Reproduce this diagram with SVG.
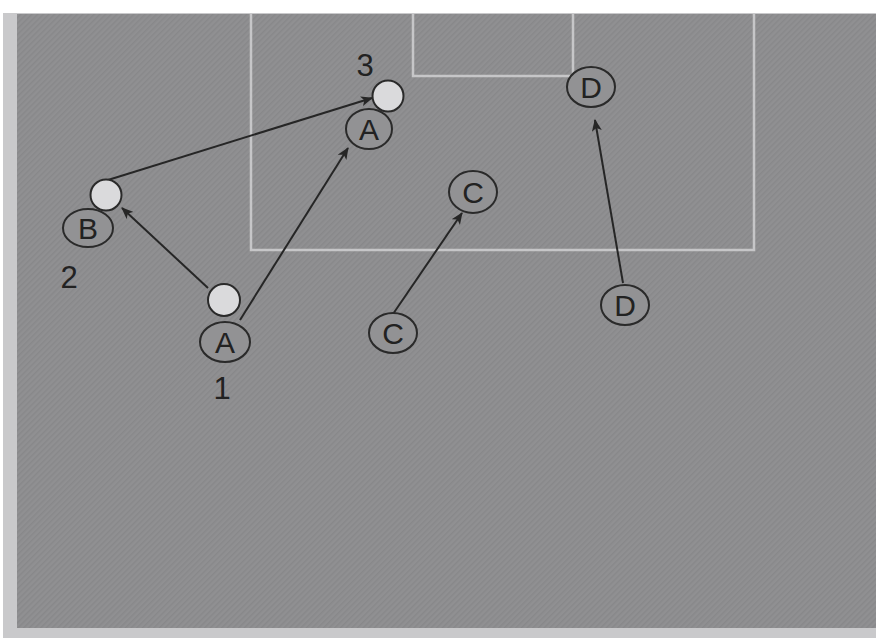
<svg xmlns="http://www.w3.org/2000/svg" width="876" height="638" viewBox="0 0 876 638">
<style>
.line{fill:none;stroke:#c6c6c8;stroke-width:2.5}
.pl{fill:#929294;stroke:#2a2a2a;stroke-width:2}
.ball{fill:#dadadc;stroke:#2a2a2a;stroke-width:2}
.lbl{font-family:"Liberation Sans",Arial,sans-serif;font-size:30px;fill:#222;text-anchor:middle}
.num{font-size:31px}
.arr{stroke:#262626;stroke-width:2;fill:none;marker-end:url(#ah)}
</style>
<defs>
<marker id="ah" viewBox="0 0 12 10" refX="11" refY="5" markerWidth="12" markerHeight="10" markerUnits="userSpaceOnUse" orient="auto">
<path d="M0,0 L12,5 L0,10 L3,5 Z" fill="#262626"/>
</marker>
<pattern id="hatch" width="4" height="4" patternUnits="userSpaceOnUse" patternTransform="rotate(45)">
<rect width="4" height="4" fill="#909092"/>
<rect width="1.5" height="4" fill="#88888a"/>
</pattern>
</defs>
<rect width="876" height="638" fill="#ffffff"/>
<rect x="3" y="13" width="873" height="625" fill="#c9c9cb"/>
<rect id="field" x="17" y="14" width="859" height="614" fill="url(#hatch)"/>
<g id="pitch-lines">
<polyline class="line" points="251,14 251,250 754,250 754,14"/>
<polyline class="line" points="413,14 413,76 573,76 573,14"/>
</g>
<g id="connectors">
<line class="arr" x1="208" y1="288" x2="122" y2="208"/>
<line class="arr" x1="240" y1="320" x2="348" y2="148"/>
<line class="arr" x1="108" y1="180" x2="372" y2="98"/>
<line class="arr" x1="393" y1="314" x2="462" y2="213"/>
<line class="arr" x1="623" y1="283" x2="595" y2="120"/>
</g>
<g id="ballA1"><circle class="ball" cx="224" cy="300" r="16"/></g>
<g id="playerA1"><ellipse class="pl" cx="225" cy="342" rx="25" ry="20"/><text class="lbl" x="225" y="353">A</text></g>
<g id="label1"><text class="lbl num" x="222" y="399">1</text></g>
<g id="ballB"><circle class="ball" cx="106" cy="195" r="15.5"/></g>
<g id="playerB"><ellipse class="pl" cx="88" cy="228" rx="25" ry="19"/><text class="lbl" x="88" y="239">B</text></g>
<g id="label2"><text class="lbl num" x="69" y="288">2</text></g>
<g id="ball3"><circle class="ball" cx="388" cy="96" r="15.5"/></g>
<g id="playerA3"><ellipse class="pl" cx="369" cy="129" rx="23" ry="20"/><text class="lbl" x="369" y="140">A</text></g>
<g id="label3"><text class="lbl num" x="365" y="76">3</text></g>
<g id="playerC2"><ellipse class="pl" cx="473" cy="192" rx="24" ry="21"/><text class="lbl" x="473" y="203">C</text></g>
<g id="playerC1"><ellipse class="pl" cx="393" cy="333" rx="24" ry="20"/><text class="lbl" x="393" y="344">C</text></g>
<g id="playerD2"><ellipse class="pl" cx="591" cy="87" rx="24" ry="20"/><text class="lbl" x="591" y="98">D</text></g>
<g id="playerD1"><ellipse class="pl" cx="625" cy="305" rx="24" ry="20"/><text class="lbl" x="625" y="316">D</text></g>
</svg>
